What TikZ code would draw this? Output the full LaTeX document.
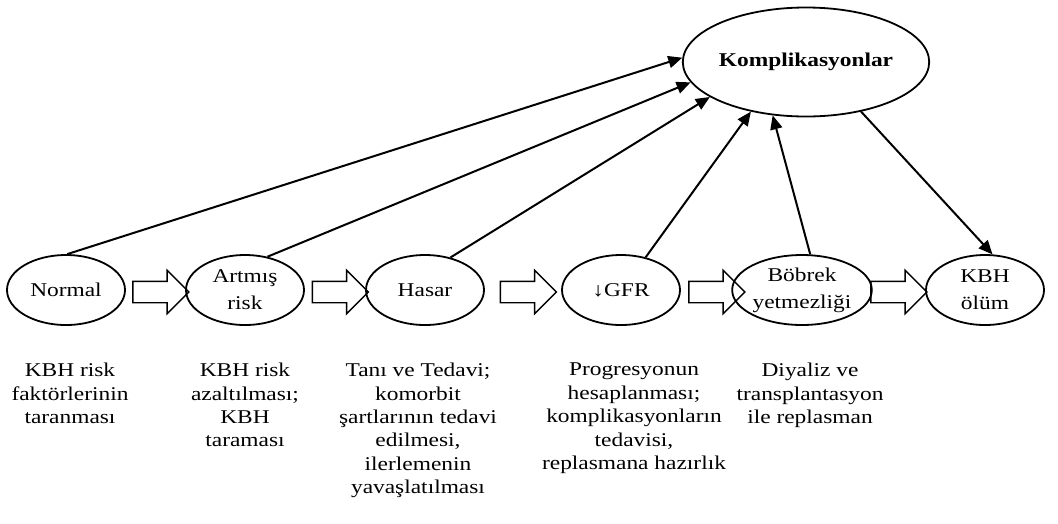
\documentclass[tikz,border=0pt]{standalone}
\usepackage{fontspec}
\setmainfont{Liberation Serif}[FakeStretch=1.2]
\usetikzlibrary{shapes.geometric,shapes.arrows,arrows.meta,positioning}

\begin{document}
\begin{tikzpicture}
		[x=1pt,y=-1pt,
		stage/.style={ellipse, draw, line width=1.8pt, minimum width=118pt, minimum height=70pt, inner sep=0pt, align=center, font=\fontsize{19.5}{27}\selectfont},
		komp/.style={ellipse, draw, line width=1.8pt, minimum width=208pt, minimum height=109pt, inner sep=0pt, font=\fontsize{19.5}{24}\selectfont\bfseries},
		blockarrow/.style={single arrow, draw, line width=1.4pt, minimum height=56pt, inner xsep=0pt, inner ysep=10pt, single arrow head extend=11pt},
		note/.style={align=center, anchor=north, inner sep=0pt, font=\fontsize{19.5}{23.4}\selectfont},
		link/.style={line width=2pt, -{Triangle[length=14pt,width=12pt]}}]
		\useasboundingbox (0,0) rectangle (1058,523);
		%stages
		\node[stage] (n1) at (66,290)  {Normal};
		\node[stage] (n2) at (245,290) {Artmış\\risk};
		\node[stage] (n3) at (425,290) {Hasar};
		\node[stage] (n4) at (621,290) {↓GFR};
		\node[stage] (n5) at (802,290) {Böbrek\\yetmezliği};
		\node[stage] (n6) at (985,290) {KBH\\ölüm};
		\node[komp] (k) at (806,62) {Komplikasyonlar};
		%block arrows
		\node[blockarrow] (a1) at (155.5,292) {};
		\node[blockarrow] (a2) at (335,292)   {};
		\node[blockarrow] (a3) at (523,292)   {};
		\node[blockarrow] (a4) at (711.5,292) {};
		\node[blockarrow] (a5) at (893.5,292) {};
		%links to complications
		\foreach \from/\to in {n1.88/k.178,n2.56/k.190,n3.52/k.200,n4.53/k.222,n5.77/k.238,k.318/n6.78}
		\draw[link]  (\from) -- (\to);
		%notes
		\node[note] (t1) at (70,363)  {KBH risk\\faktörlerinin\\taranması};
		\node[note] (t2) at (245,363) {KBH risk\\azaltılması;\\KBH\\taraması};
		\node[note] (t3) at (418,363) {Tanı ve Tedavi;\\komorbit\\şartlarının tedavi\\edilmesi,\\ilerlemenin\\yavaşlatılması};
		\node[note] (t4) at (634,363) {Progresyonun\\hesaplanması;\\komplikasyonların\\tedavisi,\\replasmana hazırlık};
		\node[note] (t5) at (810,363) {Diyaliz ve\\transplantasyon\\ile replasman};
	\end{tikzpicture}
\end{document}
